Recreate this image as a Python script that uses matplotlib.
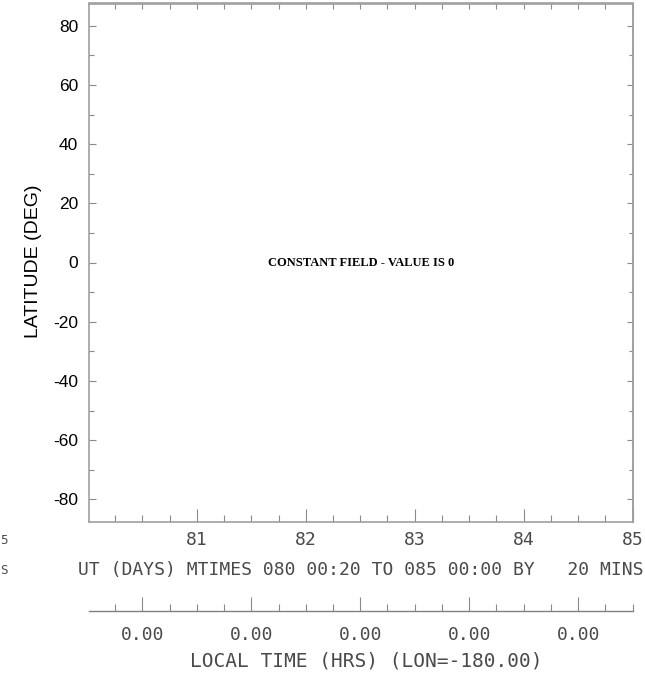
import numpy as np
import matplotlib
matplotlib.use("Agg")
import matplotlib.pyplot as plt
from matplotlib.ticker import FixedLocator, FuncFormatter, MultipleLocator, NullFormatter

plt.rcParams["axes.unicode_minus"] = False

# ---------------- data ----------------
ut_start_day = 80 + 20 / 1440.0      # 080 00:20
ut_end_day = 85.0                    # 085 00:00
ut_step_mins = 20
ut_tick_days = [81, 82, 83, 84, 85]
ut_minor_step = 0.25
lat_min, lat_max = -87.5, 87.5
lat_ticks = [-80, -60, -40, -20, 0, 20, 40, 60, 80]
lat_minor_ticks = [-70, -50, -30, -10, 10, 30, 50, 70]
lt_tick_ut_days = [80.5, 81.5, 82.5, 83.5, 84.5]
lon = -180.0
field_value = 0
cut_texts = ["5", "S"]

# ---------------- layout helpers ----------------
W, H = 645, 673
DPI = 100
PT = DPI / 72.0


def px_rect(l, t, r, b):
    return [l / W, 1 - b / H, (r - l) / W, (b - t) / H]


fig = plt.figure(figsize=(W / DPI, H / DPI), dpi=DPI)
ax_l, ax_t, ax_r, ax_b = 89.3, 3.5, 632.7, 521.5
ax = fig.add_axes(px_rect(ax_l, ax_t, ax_r, ax_b))
ax.set_xlim(ut_start_day, ut_end_day)
ax.set_ylim(lat_min, lat_max)

axis_col = "#a0a0a0"
tick_col = "#8a8a8a"
txt_col = "#4a4a4a"
mono = "DejaVu Sans Mono"
sans = "Liberation Sans"
mono_size = 13

for s in ax.spines.values():
    s.set_color(axis_col)
    s.set_linewidth(1.2)

# bottom x ticks
ax.set_xticks(ut_tick_days)
ax.xaxis.set_minor_locator(MultipleLocator(ut_minor_step))
ax.xaxis.set_major_formatter(FuncFormatter(lambda v, p: f"{v:.0f}"))
ax.tick_params(axis="x", which="major", direction="in", length=13 / PT, width=0.8,
               color=tick_col, top=False, pad=7, labelsize=mono_size, labelcolor=txt_col)
ax.tick_params(axis="x", which="minor", direction="in", length=6.5 / PT, width=0.8,
               color=tick_col, top=False)
for lab in ax.get_xticklabels():
    lab.set_family(mono)

# left y ticks
ax.set_yticks(lat_ticks)
ax.yaxis.set_minor_locator(FixedLocator(lat_minor_ticks))
ax.tick_params(axis="y", which="major", direction="in", length=7 / PT, width=0.8,
               color=tick_col, right=False, pad=8, labelsize=12.5, labelcolor="black")
ax.tick_params(axis="y", which="minor", direction="in", length=5 / PT, width=0.8,
               color=tick_col, right=False)
for lab in ax.get_yticklabels():
    lab.set_family(sans)

# top ticks (no labels)
top = ax.secondary_xaxis("top")
top.set_xticks(ut_tick_days)
top.xaxis.set_minor_locator(MultipleLocator(ut_minor_step))
top.tick_params(axis="x", which="both", direction="in", length=6 / PT, width=0.8,
                color=tick_col, labeltop=False, labelbottom=False)
top.spines["top"].set_color(axis_col)
top.spines["top"].set_linewidth(1.2)

# right ticks (no labels)
right = ax.secondary_yaxis("right")
right.set_yticks(lat_ticks)
right.yaxis.set_minor_locator(FixedLocator(lat_minor_ticks))
right.tick_params(axis="y", which="major", direction="in", length=6 / PT, width=0.8,
                  color=tick_col, labelright=False, labelleft=False)
right.tick_params(axis="y", which="minor", direction="in", length=4.5 / PT, width=0.8,
                  color=tick_col)
right.spines["right"].set_color(axis_col)
right.spines["right"].set_linewidth(1.2)

# local time axis
lt_y_px = 611
lt_loc = -(lt_y_px - ax_b) / (ax_b - ax_t)
ltax = ax.secondary_xaxis(lt_loc)
ltax.set_xticks(lt_tick_ut_days)
ltax.xaxis.set_minor_locator(MultipleLocator(ut_minor_step))


def lt_fmt(v, p):
    lt = ((v % 1.0) * 24.0 + lon / 15.0) % 24.0
    return f"{lt:.2f}"


ltax.xaxis.set_major_formatter(FuncFormatter(lt_fmt))
ltax.xaxis.set_minor_formatter(NullFormatter())
ltax.tick_params(axis="x", which="major", direction="in", length=14 / PT, width=0.8,
                 color=tick_col, pad=11, labelsize=mono_size, labelcolor=txt_col)
ltax.tick_params(axis="x", which="minor", direction="in", length=7 / PT, width=0.8,
                 color=tick_col)
for lab in ltax.get_xticklabels():
    lab.set_family(mono)
for name, sp in ltax.spines.items():
    sp.set_color("#808080")
    sp.set_linewidth(1.0)

# labels
fig.text(34 / W, 1 - 261.5 / H, "LATITUDE (DEG)", rotation=90, ha="center", va="center",
         family=sans, fontsize=14, color="black")
ut_label = (f"UT (DAYS) MTIMES {int(ut_start_day):03d} 00:20 TO {int(ut_end_day):03d} 00:00 "
            f"BY {ut_step_mins:4d} MINS")
fig.text((78 + 644) / 2 / W, 1 - 570 / H, ut_label, ha="center", va="center",
         family=mono, fontsize=mono_size, color=txt_col)
fig.text(366 / W, 1 - 661 / H, f"LOCAL TIME (HRS) (LON={lon:.2f})",
         ha="center", va="center", family=mono, fontsize=14, color=txt_col)

ax.text(0.5, 0.5, f"CONSTANT FIELD - VALUE IS {field_value}", transform=ax.transAxes,
        ha="center", va="center", family="Liberation Serif", fontweight="bold",
        fontsize=9, color="black")

# partially visible texts at the left edge (kept inside the canvas)
fig.text(0.5 / W, 1 - 540 / H, cut_texts[0], ha="left", va="center", family=mono,
         fontsize=9, color=txt_col)
fig.text(0.5 / W, 1 - 570 / H, cut_texts[1], ha="left", va="center", family=mono,
         fontsize=9, color=txt_col)

fig.savefig("out.png", dpi=DPI)
